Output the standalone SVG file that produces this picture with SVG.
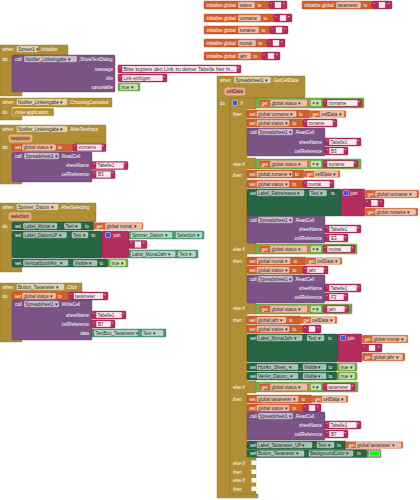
<svg xmlns="http://www.w3.org/2000/svg" width="420" height="500" viewBox="0 0 420 500">
<style>
text{font-family:"Liberation Sans",Arial,sans-serif;font-size:4.5px}
.w{fill:#fff}
.k{fill:#2b2b2b}
.e{text-anchor:end}
.ev{fill:#b18e35;stroke:#8c6f28;stroke-width:.4}
.pu{fill:#7c5385;stroke:#5e3e66;stroke-width:.4}
.sg{fill:#266643;stroke:#1b4a30;stroke-width:.4}
.lg{fill:#439970;stroke:#2f7352;stroke-width:.4}
.or{fill:#d05f2d;stroke:#a84a20;stroke-width:.4}
.gt{fill:#d05f2d;stroke:#f2b08f;stroke-width:.4}
.tx{fill:#b32d5e;stroke:#8a2047;stroke-width:.4}
.lo{fill:#77ab41;stroke:#5b8830;stroke-width:.4}
.cl{fill:#b18e35;stroke:#eadbb0;stroke-width:.5}
.pa{fill:#ec9a73;stroke:#fff;stroke-width:.4}
.f{fill:#fff;fill-opacity:.6;stroke:#fff;stroke-width:.3}
.tf{fill:#fbe9ef;stroke:#fff;stroke-width:.3}
.gear{fill:#3b5bdb;stroke:#fff;stroke-width:.4}
.nt{fill:#fff}
</style>
<g id="connectors"/>
<g id="globals">
<g id="init-status">
<rect class="or" x="204" y="1" width="65" height="8" rx="1"/>
<text class="w" x="206.5" y="6.6">initialize global</text>
<rect class="f" x="238.5" y="2.2" width="16" height="5.6" rx="1"/>
<text class="k" x="239.5" y="6.6">status</text>
<text class="w" x="257.5" y="6.6">to</text>
<rect class="tx" x="269" y="1" width="18" height="8" rx="1"/>
<text class="w" x="270.2" y="6.6">“</text><rect class="tf" x="275" y="2.2" width="6" height="5.6"/><text class="w" x="283" y="6.6">”</text>
</g>
<g id="init-vorname">
<rect class="or" x="204" y="14" width="70" height="8" rx="1"/>
<text class="w" x="206.5" y="19.6">initialize global</text>
<rect class="f" x="238.5" y="15.2" width="22" height="5.6" rx="1"/>
<text class="k" x="239.5" y="19.6">vorname</text>
<text class="w" x="263.5" y="19.6">to</text>
<rect class="tx" x="274" y="14" width="18" height="8" rx="1"/>
<text class="w" x="275.2" y="19.6">“</text><rect class="tf" x="280" y="15.2" width="6" height="5.6"/><text class="w" x="288" y="19.6">”</text>
</g>
<g id="init-zuname">
<rect class="or" x="204" y="26" width="66" height="8" rx="1"/>
<text class="w" x="206.5" y="31.6">initialize global</text>
<rect class="f" x="238.5" y="27.2" width="20" height="5.6" rx="1"/>
<text class="k" x="239.5" y="31.6">zuname</text>
<text class="w" x="261.5" y="31.6">to</text>
<rect class="tx" x="270" y="26" width="18" height="8" rx="1"/>
<text class="w" x="271.2" y="31.6">“</text><rect class="tf" x="276" y="27.2" width="6" height="5.6"/><text class="w" x="284" y="31.6">”</text>
</g>
<g id="init-monat">
<rect class="or" x="204" y="39" width="63" height="8" rx="1"/>
<text class="w" x="206.5" y="44.6">initialize global</text>
<rect class="f" x="238.5" y="40.2" width="17" height="5.6" rx="1"/>
<text class="k" x="239.5" y="44.6">monat</text>
<text class="w" x="258.5" y="44.6">to</text>
<rect class="tx" x="267" y="39" width="18" height="8" rx="1"/>
<text class="w" x="268.2" y="44.6">“</text><rect class="tf" x="273" y="40.2" width="6" height="5.6"/><text class="w" x="281" y="44.6">”</text>
</g>
<g id="init-jahr">
<rect class="or" x="204" y="52" width="58" height="8" rx="1"/>
<text class="w" x="206.5" y="57.6">initialize global</text>
<rect class="f" x="238.5" y="53.2" width="12" height="5.6" rx="1"/>
<text class="k" x="239.5" y="57.6">jahr</text>
<text class="w" x="253.5" y="57.6">to</text>
<rect class="tx" x="262" y="52" width="18" height="8" rx="1"/>
<text class="w" x="263.2" y="57.6">“</text><rect class="tf" x="268" y="53.2" width="6" height="5.6"/><text class="w" x="276" y="57.6">”</text>
</g>
<g id="init-taxameter">
<rect class="or" x="302" y="1" width="70" height="8" rx="1"/>
<text class="w" x="304.5" y="6.6">initialize global</text>
<rect class="f" x="336.5" y="2.2" width="24" height="5.6" rx="1"/>
<text class="k" x="337.5" y="6.6">taxameter</text>
<text class="w" x="363.5" y="6.6">to</text>
<rect class="tx" x="372" y="1" width="20" height="8" rx="1"/>
<text class="w" x="373.2" y="6.6">“</text><rect class="tf" x="379" y="2.2" width="6" height="5.6"/><text class="w" x="388" y="6.6">”</text>
</g>
</g>

<g id="screen1-initialize">
<path class="ev" d="M0,45H68V55H12V90H22V96H0Z"/>
<text class="w" x="2.5" y="50.6">when</text>
<rect class="f" x="17" y="46.2" width="21" height="5.6" rx="1"/>
<text class="k" x="18" y="50.6">Screen1 ▾</text>
<text class="w" x="40" y="50.6">.Initialize</text>
<text class="w" x="2.5" y="61">do</text>
<rect class="pu" x="12" y="55" width="103" height="37" rx="1"/>
<text class="w" x="15" y="60.6">call</text>
<rect class="f" x="24.5" y="56.2" width="52" height="5.6" rx="1"/>
<text class="k" x="25.5" y="60.6">Notifier_Linkeingabe ▾</text>
<text class="w" x="79" y="60.6">.ShowTextDialog</text>
<text class="w e" x="113" y="70.6">message</text>
<text class="w e" x="113" y="79.6">title</text>
<text class="w e" x="113" y="88.6">cancelable</text>
<rect class="tx" x="118" y="65" width="123" height="8" rx="1"/>
<text class="w" x="119.2" y="70.6">“</text>
<rect class="tf" x="122.5" y="66.2" width="114" height="5.6"/>
<text class="k" x="123.5" y="70.6" textLength="111" lengthAdjust="spacingAndGlyphs">Bitte kopiere den Link zu deiner Tabelle hier hi...</text>
<text class="w" x="237.5" y="70.6">”</text>
<rect class="tx" x="118" y="74" width="49" height="8" rx="1"/>
<text class="w" x="119.2" y="79.6">“</text>
<rect class="tf" x="122.5" y="75.2" width="40" height="5.6"/>
<text class="k" x="123.5" y="79.6">Link einfügen</text>
<text class="w" x="163.5" y="79.6">”</text>
<rect class="lo" x="118" y="83" width="22" height="8" rx="1"/>
<rect class="f" x="120.5" y="84.2" width="17" height="5.6" rx="1"/>
<text class="k" x="121.5" y="88.6">true ▾</text>
</g>

<g id="notifier-choosingcanceled">
<path class="ev" d="M0,98H112V107H12V116H22V120H0Z"/>
<text class="w" x="2.5" y="103.6">when</text>
<rect class="f" x="17" y="99.2" width="50" height="5.6" rx="1"/>
<text class="k" x="18" y="103.6">Notifier_Linkeingabe ▾</text>
<text class="w" x="69" y="103.6">.ChoosingCanceled</text>
<text class="w" x="2.5" y="113.6">do</text>
<rect class="cl" x="12" y="108" width="42" height="8" rx="1"/>
<text class="w" x="15" y="113.6">close application</text>
</g>

<g id="notifier-aftertextinput">
<path class="ev" d="M0,125H106V143H12V179H22V184H0Z"/>
<text class="w" x="2.5" y="130.6">when</text>
<rect class="f" x="17" y="126.2" width="50" height="5.6" rx="1"/>
<text class="k" x="18" y="130.6">Notifier_Linkeingabe ▾</text>
<text class="w" x="69" y="130.6">.AfterTextInput</text>
<rect class="pa" x="9" y="135" width="23" height="7" rx="2"/>
<text class="k" x="11" y="139.8">response</text>
<text class="w" x="2.5" y="149.2">do</text>
<rect class="or" x="12" y="143.5" width="61" height="8" rx="1"/>
<text class="w" x="15" y="149.1">set</text>
<rect class="f" x="22.5" y="144.7" width="33" height="5.6" rx="1"/>
<text class="k" x="23.5" y="149.1">global status ▾</text>
<text class="w" x="58" y="149.1">to</text>
<rect class="tx" x="73" y="143.5" width="33" height="8" rx="1"/>
<text class="w" x="74.2" y="149.1">“</text><rect class="tf" x="77.5" y="144.7" width="24" height="5.6"/><text class="k" x="78.5" y="149.1">vorname</text><text class="w" x="102.5" y="149.1">”</text>
<rect class="pu" x="12" y="152" width="80" height="30" rx="1"/>
<text class="w" x="15" y="157.6">call</text>
<rect class="f" x="24.5" y="153.2" width="34" height="5.6" rx="1"/>
<text class="k" x="25.5" y="157.6">Spreadsheet1 ▾</text>
<text class="w" x="60.5" y="157.6">.ReadCell</text>
<text class="w e" x="89" y="167.1">sheetName</text>
<text class="w e" x="89" y="176.1">cellReference</text>
<rect class="tx" x="92" y="161.5" width="36" height="8" rx="1"/>
<text class="w" x="93.2" y="167.1">“</text><rect class="tf" x="96.5" y="162.7" width="27" height="5.6"/><text class="k" x="97.5" y="167.1">Tabelle1</text><text class="w" x="124.5" y="167.1">”</text>
<rect class="tx" x="92" y="170.5" width="23" height="8" rx="1"/>
<text class="w" x="93.2" y="176.1">“</text><rect class="tf" x="96.5" y="171.7" width="14" height="5.6"/><text class="k" x="98" y="176.1">B3</text><text class="w" x="111.5" y="176.1">”</text>
</g>

<g id="spinner-afterselecting">
<path class="ev" d="M0,203H96V222H12V267H22V272H0Z"/>
<text class="w" x="2.5" y="208.6">when</text>
<rect class="f" x="17" y="204.2" width="41" height="5.6" rx="1"/>
<text class="k" x="18" y="208.6">Spinner_Datum ▾</text>
<text class="w" x="60" y="208.6">.AfterSelecting</text>
<rect class="pa" x="9" y="213" width="22" height="7" rx="2"/>
<text class="k" x="11" y="217.8">selection</text>
<text class="w" x="2.5" y="228">do</text>
<rect class="sg" x="12" y="222" width="82" height="8" rx="1"/>
<text class="w" x="15" y="227.6">set</text>
<rect class="f" x="23.5" y="223.2" width="33.5" height="5.6" rx="1"/>
<text class="k" x="24.5" y="227.6">Label_Monat ▾</text>
<text class="w" x="59" y="227.6">.</text>
<rect class="f" x="64.5" y="223.2" width="16.5" height="5.6" rx="1"/>
<text class="k" x="65.5" y="227.6">Text ▾</text>
<text class="w" x="85" y="227.6">to</text>
<rect class="gt" x="94" y="222.5" width="49" height="7" rx="1"/>
<text class="w" x="96.5" y="227.6">get</text>
<rect class="f" x="105.5" y="223.2" width="36" height="5.6" rx="1"/>
<text class="k" x="106.5" y="227.6">global monat ▾</text>
<rect class="sg" x="12" y="231" width="90" height="27" rx="1"/>
<text class="w" x="15" y="236.6">set</text>
<rect class="f" x="23.5" y="232.2" width="43" height="5.6" rx="1"/>
<text class="k" x="24.5" y="236.6">Label_DatumUP ▾</text>
<text class="w" x="68.5" y="236.6">.</text>
<rect class="f" x="72" y="232.2" width="16" height="5.6" rx="1"/>
<text class="k" x="73" y="236.6">Text ▾</text>
<text class="w" x="91.5" y="236.6">to</text>
<rect class="tx" x="102" y="231" width="27" height="27" rx="1"/>
<rect class="gear" x="105.5" y="232.5" width="5" height="5" rx=".8"/>
<text class="w" x="113.5" y="236.6">join</text>
<rect class="lg" x="129" y="231" width="75" height="8" rx="1"/>
<rect class="f" x="131" y="232.2" width="41" height="5.6" rx="1"/>
<text class="k" x="132" y="236.6">Spinner_Datum ▾</text>
<text class="w" x="173.5" y="236.6">.</text>
<rect class="f" x="176" y="232.2" width="26" height="5.6" rx="1"/>
<text class="k" x="177" y="236.6">Selection ▾</text>
<rect class="tx" x="129" y="240.5" width="18" height="8" rx="1"/>
<text class="w" x="130.2" y="246.1">“</text><rect class="tf" x="135" y="241.7" width="6" height="5.6"/><text class="w" x="143" y="246.1">”</text>
<rect class="lg" x="129" y="250" width="69" height="8" rx="1"/>
<rect class="f" x="131" y="251.2" width="44" height="5.6" rx="1"/>
<text class="k" x="132" y="255.6">Label_MonatJahr ▾</text>
<text class="w" x="176.3" y="255.6">.</text>
<rect class="f" x="178.5" y="251.2" width="17" height="5.6" rx="1"/>
<text class="k" x="179.5" y="255.6">Text ▾</text>
<rect class="sg" x="12" y="259" width="96" height="8" rx="1"/>
<text class="w" x="15" y="264.6">set</text>
<rect class="f" x="23.5" y="260.2" width="44.5" height="5.6" rx="1"/>
<text class="k" x="24.5" y="264.6">VerticalScrollArr_ ▾</text>
<text class="w" x="69.5" y="264.6">.</text>
<rect class="f" x="73.5" y="260.2" width="23.5" height="5.6" rx="1"/>
<text class="k" x="74.5" y="264.6">Visible ▾</text>
<text class="w" x="99.5" y="264.6">to</text>
<rect class="lo" x="108" y="259" width="20" height="8" rx="1"/>
<rect class="f" x="110.5" y="260.2" width="15" height="5.6" rx="1"/>
<text class="k" x="111.5" y="264.6">true ▾</text>
</g>

<g id="button-taxameter-click">
<path class="ev" d="M0,283H82V292H12V337H22V342H0Z"/>
<text class="w" x="2.5" y="288.6">when</text>
<rect class="f" x="17" y="284.2" width="47" height="5.6" rx="1"/>
<text class="k" x="18" y="288.6">Button_Taxameter ▾</text>
<text class="w" x="66" y="288.6">.Click</text>
<text class="w" x="2.5" y="297.8">do</text>
<rect class="or" x="12" y="292" width="57" height="8" rx="1"/>
<text class="w" x="15" y="297.6">set</text>
<rect class="f" x="22.5" y="293.2" width="33" height="5.6" rx="1"/>
<text class="k" x="23.5" y="297.6">global status ▾</text>
<text class="w" x="58" y="297.6">to</text>
<rect class="tx" x="69" y="292" width="39" height="8" rx="1"/>
<text class="w" x="70.2" y="297.6">“</text><rect class="tf" x="74" y="293.2" width="29" height="5.6"/><text class="k" x="75" y="297.6">taxameter</text><text class="w" x="104.3" y="297.6">”</text>
<rect class="pu" x="12" y="300" width="80" height="40" rx="1"/>
<text class="w" x="15" y="305.6">call</text>
<rect class="f" x="24.5" y="301.2" width="34" height="5.6" rx="1"/>
<text class="k" x="25.5" y="305.6">Spreadsheet1 ▾</text>
<text class="w" x="60.5" y="305.6">.WriteCell</text>
<text class="w e" x="89" y="316.6">sheetName</text>
<text class="w e" x="89" y="325.6">cellReference</text>
<text class="w e" x="89" y="334.6">data</text>
<rect class="tx" x="92" y="311" width="34" height="8" rx="1"/>
<text class="w" x="93.2" y="316.6">“</text><rect class="tf" x="96.5" y="312.2" width="25" height="5.6"/><text class="k" x="97.5" y="316.6">Tabelle1</text><text class="w" x="122.5" y="316.6">”</text>
<rect class="tx" x="92" y="320" width="23" height="8" rx="1"/>
<text class="w" x="93.2" y="325.6">“</text><rect class="tf" x="96.5" y="321.2" width="14" height="5.6"/><text class="k" x="98" y="325.6">B7</text><text class="w" x="111.5" y="325.6">”</text>
<rect class="lg" x="92" y="329" width="74" height="8" rx="1"/>
<rect class="f" x="94.5" y="330.2" width="43.5" height="5.6" rx="1"/>
<text class="k" x="95.5" y="334.6">TextBox_Taxameter ▾</text>
<text class="w" x="139.5" y="334.6">.</text>
<rect class="f" x="142" y="330.2" width="21" height="5.6" rx="1"/>
<text class="k" x="143" y="334.6">Text ▾</text>
</g>

<g id="spreadsheet1-gotcelldata">
<path class="ev" d="M217,76H305V98H230V494H258V498H217Z"/>
<text class="w" x="220" y="81.6">when</text>
<rect class="f" x="234.5" y="77.2" width="36" height="5.6" rx="1"/>
<text class="k" x="235.5" y="81.6">Spreadsheet1 ▾</text>
<text class="w" x="272.5" y="81.6">.GotCellData</text>
<rect class="pa" x="225" y="88" width="20" height="7" rx="2"/>
<text class="k" x="226.5" y="92.8">cellData</text>
<text class="w" x="220" y="104.5">do</text>

<g id="if-block">
<path class="ev" d="M230,98H256V109H247V158H256V169H247V243H256V254H247V302H256V314H247V381H256V393H247V458H256V494H230Z"/>
<rect class="nt" x="251.5" y="460.5" width="5" height="4.5"/>
<rect class="nt" x="251.5" y="469.5" width="5" height="4.5"/>
<rect class="nt" x="251.5" y="478" width="5" height="4.5"/>
<rect class="nt" x="251.5" y="486.5" width="5" height="4.5"/>
<rect class="gear" x="232.5" y="100.5" width="5" height="5" rx=".8"/>
<text class="w" x="240.5" y="105">if</text>
<text class="w" x="233" y="116">then</text>
<text class="w" x="233" y="165.5">else if</text>
<text class="w" x="233" y="177">then</text>
<text class="w" x="233" y="250.5">else if</text>
<text class="w" x="233" y="262.5">then</text>
<text class="w" x="233" y="310">else if</text>
<text class="w" x="233" y="322">then</text>
<text class="w" x="233" y="389">else if</text>
<text class="w" x="233" y="400.5">then</text>
<text class="w" x="233" y="464.5">else if</text>
<text class="w" x="233" y="473.5">then</text>
<text class="w" x="233" y="482">else if</text>
<text class="w" x="233" y="490.5">then</text>
</g>

<g id="cond-vorname">
<rect class="lo" x="255" y="98" width="109" height="10" rx="1"/>
<rect class="gt" x="259" y="99.5" width="50" height="7" rx="1"/>
<text class="w" x="261.5" y="104.5">get</text>
<rect class="f" x="270.5" y="100.2" width="36.5" height="5.6" rx="1"/>
<text class="k" x="271.5" y="104.5">global status ▾</text>
<rect class="f" x="311" y="100.2" width="10" height="5.6" rx="1"/>
<text class="k" x="312.3" y="104.5">= ▾</text>
<rect class="tx" x="323" y="99.5" width="39" height="7" rx="1"/>
<text class="w" x="324.2" y="104.5">“</text><rect class="tf" x="327.5" y="100.2" width="30" height="5.6"/><text class="k" x="328.5" y="104.5">vorname</text><text class="w" x="358.5" y="104.5">”</text>
</g>
<g id="then-vorname">
<rect class="or" x="247" y="110" width="63" height="8" rx="1"/>
<text class="w" x="249.5" y="115.6">set</text>
<rect class="f" x="257" y="111.2" width="39" height="5.6" rx="1"/>
<text class="k" x="258" y="115.6">global vorname ▾</text>
<text class="w" x="299" y="115.6">to</text>
<rect class="gt" x="310" y="110.5" width="36" height="7" rx="1"/>
<text class="w" x="312.5" y="115.6">get</text>
<rect class="f" x="320" y="111.2" width="24" height="5.6" rx="1"/>
<text class="k" x="321" y="115.6">cellData ▾</text>
<rect class="or" x="247" y="119" width="56" height="8" rx="1"/>
<text class="w" x="249.5" y="124.6">set</text>
<rect class="f" x="257" y="120.2" width="32" height="5.6" rx="1"/>
<text class="k" x="258" y="124.6">global status ▾</text>
<text class="w" x="292.5" y="124.6">to</text>
<rect class="tx" x="303" y="119" width="34" height="8" rx="1"/>
<text class="w" x="304.2" y="124.6">“</text><rect class="tf" x="307.5" y="120.2" width="25" height="5.6"/><text class="k" x="308.5" y="124.6">zuname</text><text class="w" x="333.5" y="124.6">”</text>
<rect class="pu" x="247" y="128" width="78" height="28" rx="1"/>
<text class="w" x="250" y="133.6">call</text>
<rect class="f" x="258.5" y="129.2" width="34" height="5.6" rx="1"/>
<text class="k" x="259.5" y="133.6">Spreadsheet1 ▾</text>
<text class="w" x="294.5" y="133.6">.ReadCell</text>
<text class="w e" x="322" y="143.6">sheetName</text>
<text class="w e" x="322" y="152.6">cellReference</text>
<rect class="tx" x="325" y="138" width="36" height="8" rx="1"/>
<text class="w" x="326.2" y="143.6">“</text><rect class="tf" x="329.5" y="139.2" width="27" height="5.6"/><text class="k" x="330.5" y="143.6">Tabelle1</text><text class="w" x="357.5" y="143.6">”</text>
<rect class="tx" x="325" y="147" width="23" height="8" rx="1"/>
<text class="w" x="326.2" y="152.6">“</text><rect class="tf" x="329.5" y="148.2" width="14" height="5.6"/><text class="k" x="331" y="152.6">B3</text><text class="w" x="344.5" y="152.6">”</text>
</g>

<g id="cond-zuname">
<rect class="lo" x="255" y="159" width="106" height="10" rx="1"/>
<rect class="gt" x="259" y="160.5" width="50" height="7" rx="1"/>
<text class="w" x="261.5" y="165.5">get</text>
<rect class="f" x="270.5" y="161.2" width="36.5" height="5.6" rx="1"/>
<text class="k" x="271.5" y="165.5">global status ▾</text>
<rect class="f" x="311" y="161.2" width="10" height="5.6" rx="1"/>
<text class="k" x="312.3" y="165.5">= ▾</text>
<rect class="tx" x="323" y="160.5" width="35" height="7" rx="1"/>
<text class="w" x="324.2" y="165.5">“</text><rect class="tf" x="327.5" y="161.2" width="26" height="5.6"/><text class="k" x="328.5" y="165.5">zuname</text><text class="w" x="354.5" y="165.5">”</text>
</g>
<g id="then-zuname">
<rect class="or" x="247" y="170" width="57" height="8" rx="1"/>
<text class="w" x="249.5" y="175.6">set</text>
<rect class="f" x="257" y="171.2" width="35" height="5.6" rx="1"/>
<text class="k" x="258" y="175.6">global zuname ▾</text>
<text class="w" x="295" y="175.6">to</text>
<rect class="gt" x="304" y="170.5" width="36" height="7" rx="1"/>
<text class="w" x="306.5" y="175.6">get</text>
<rect class="f" x="314" y="171.2" width="24" height="5.6" rx="1"/>
<text class="k" x="315" y="175.6">cellData ▾</text>
<rect class="or" x="247" y="180" width="56" height="8" rx="1"/>
<text class="w" x="249.5" y="185.6">set</text>
<rect class="f" x="257" y="181.2" width="32" height="5.6" rx="1"/>
<text class="k" x="258" y="185.6">global status ▾</text>
<text class="w" x="292.5" y="185.6">to</text>
<rect class="tx" x="303" y="180" width="31" height="8" rx="1"/>
<text class="w" x="304.2" y="185.6">“</text><rect class="tf" x="307.5" y="181.2" width="22" height="5.6"/><text class="k" x="308.5" y="185.6">monat</text><text class="w" x="330.5" y="185.6">”</text>
<rect class="sg" x="247" y="189" width="94" height="27" rx="1"/>
<text class="w" x="250" y="194.6">set</text>
<rect class="f" x="257" y="190.2" width="47" height="5.6" rx="1"/>
<text class="k" x="258" y="194.6">Label_Fahrername ▾</text>
<text class="w" x="305.8" y="194.6">.</text>
<rect class="f" x="309.5" y="190.2" width="17" height="5.6" rx="1"/>
<text class="k" x="310.5" y="194.6">Text ▾</text>
<text class="w" x="331" y="194.6">to</text>
<rect class="tx" x="341" y="189" width="24" height="27" rx="1"/>
<rect class="gear" x="343.5" y="190.5" width="5" height="5" rx=".8"/>
<text class="w" x="350.5" y="194.6">join</text>
<rect class="gt" x="365" y="190" width="54" height="8" rx="1"/>
<text class="w" x="367.5" y="195.6">get</text>
<rect class="f" x="375.5" y="191.2" width="41" height="5.6" rx="1"/>
<text class="k" x="376.5" y="195.6">global vorname ▾</text>
<rect class="tx" x="365" y="199" width="19" height="8" rx="1"/>
<text class="w" x="366.2" y="204.6">“</text><rect class="tf" x="371.5" y="200.2" width="6" height="5.6"/><text class="w" x="380" y="204.6">”</text>
<rect class="gt" x="365" y="208" width="53" height="8" rx="1"/>
<text class="w" x="367.5" y="213.6">get</text>
<rect class="f" x="375.5" y="209.2" width="40" height="5.6" rx="1"/>
<text class="k" x="376.5" y="213.6">global zuname ▾</text>
<rect class="pu" x="247" y="216" width="78" height="27" rx="1"/>
<text class="w" x="250" y="221.6">call</text>
<rect class="f" x="258.5" y="217.2" width="34" height="5.6" rx="1"/>
<text class="k" x="259.5" y="221.6">Spreadsheet1 ▾</text>
<text class="w" x="294.5" y="221.6">.ReadCell</text>
<text class="w e" x="322" y="230.6">sheetName</text>
<text class="w e" x="322" y="239.6">cellReference</text>
<rect class="tx" x="325" y="225" width="36" height="8" rx="1"/>
<text class="w" x="326.2" y="230.6">“</text><rect class="tf" x="329.5" y="226.2" width="27" height="5.6"/><text class="k" x="330.5" y="230.6">Tabelle1</text><text class="w" x="357.5" y="230.6">”</text>
<rect class="tx" x="325" y="234" width="23" height="8" rx="1"/>
<text class="w" x="326.2" y="239.6">“</text><rect class="tf" x="329.5" y="235.2" width="14" height="5.6"/><text class="k" x="331" y="239.6">E3</text><text class="w" x="344.5" y="239.6">”</text>
</g>

<g id="cond-monat">
<rect class="lo" x="255" y="244" width="102" height="10" rx="1"/>
<rect class="gt" x="259" y="245.5" width="50" height="7" rx="1"/>
<text class="w" x="261.5" y="250.5">get</text>
<rect class="f" x="270.5" y="246.2" width="36.5" height="5.6" rx="1"/>
<text class="k" x="271.5" y="250.5">global status ▾</text>
<rect class="f" x="311" y="246.2" width="10" height="5.6" rx="1"/>
<text class="k" x="312.3" y="250.5">= ▾</text>
<rect class="tx" x="323" y="245.5" width="32" height="7" rx="1"/>
<text class="w" x="324.2" y="250.5">“</text><rect class="tf" x="327.5" y="246.2" width="23" height="5.6"/><text class="k" x="328.5" y="250.5">monat</text><text class="w" x="351.5" y="250.5">”</text>
</g>
<g id="then-monat">
<rect class="or" x="247" y="257" width="59" height="8" rx="1"/>
<text class="w" x="249.5" y="262.6">set</text>
<rect class="f" x="257" y="258.2" width="33" height="5.6" rx="1"/>
<text class="k" x="258" y="262.6">global monat ▾</text>
<text class="w" x="293.5" y="262.6">to</text>
<rect class="gt" x="306" y="257.5" width="36" height="7" rx="1"/>
<text class="w" x="308.5" y="262.6">get</text>
<rect class="f" x="316" y="258.2" width="24" height="5.6" rx="1"/>
<text class="k" x="317" y="262.6">cellData ▾</text>
<rect class="or" x="247" y="266" width="56" height="8" rx="1"/>
<text class="w" x="249.5" y="271.6">set</text>
<rect class="f" x="257" y="267.2" width="32" height="5.6" rx="1"/>
<text class="k" x="258" y="271.6">global status ▾</text>
<text class="w" x="292.5" y="271.6">to</text>
<rect class="tx" x="303" y="266" width="25" height="8" rx="1"/>
<text class="w" x="304.2" y="271.6">“</text><rect class="tf" x="307.5" y="267.2" width="16" height="5.6"/><text class="k" x="308.5" y="271.6">jahr</text><text class="w" x="324.5" y="271.6">”</text>
<rect class="pu" x="247" y="275" width="78" height="28" rx="1"/>
<text class="w" x="250" y="280.6">call</text>
<rect class="f" x="258.5" y="276.2" width="34" height="5.6" rx="1"/>
<text class="k" x="259.5" y="280.6">Spreadsheet1 ▾</text>
<text class="w" x="294.5" y="280.6">.ReadCell</text>
<text class="w e" x="322" y="289.6">sheetName</text>
<text class="w e" x="322" y="298.6">cellReference</text>
<rect class="tx" x="325" y="284" width="36" height="8" rx="1"/>
<text class="w" x="326.2" y="289.6">“</text><rect class="tf" x="329.5" y="285.2" width="27" height="5.6"/><text class="k" x="330.5" y="289.6">Tabelle1</text><text class="w" x="357.5" y="289.6">”</text>
<rect class="tx" x="325" y="293" width="23" height="8" rx="1"/>
<text class="w" x="326.2" y="298.6">“</text><rect class="tf" x="329.5" y="294.2" width="14" height="5.6"/><text class="k" x="331" y="298.6">F3</text><text class="w" x="344.5" y="298.6">”</text>
</g>

<g id="cond-jahr">
<rect class="lo" x="255" y="304" width="97" height="10" rx="1"/>
<rect class="gt" x="259" y="305.5" width="50" height="7" rx="1"/>
<text class="w" x="261.5" y="310.5">get</text>
<rect class="f" x="270.5" y="306.2" width="36.5" height="5.6" rx="1"/>
<text class="k" x="271.5" y="310.5">global status ▾</text>
<rect class="f" x="311" y="306.2" width="10" height="5.6" rx="1"/>
<text class="k" x="312.3" y="310.5">= ▾</text>
<rect class="tx" x="323" y="305.5" width="26" height="7" rx="1"/>
<text class="w" x="324.2" y="310.5">“</text><rect class="tf" x="327.5" y="306.2" width="17" height="5.6"/><text class="k" x="328.5" y="310.5">jahr</text><text class="w" x="345.5" y="310.5">”</text>
</g>
<g id="then-jahr">
<rect class="or" x="247" y="316" width="54" height="8" rx="1"/>
<text class="w" x="249.5" y="321.6">set</text>
<rect class="f" x="257" y="317.2" width="29" height="5.6" rx="1"/>
<text class="k" x="258" y="321.6">global jahr ▾</text>
<text class="w" x="289" y="321.6">to</text>
<rect class="gt" x="301" y="316.5" width="36" height="7" rx="1"/>
<text class="w" x="303.5" y="321.6">get</text>
<rect class="f" x="311" y="317.2" width="24" height="5.6" rx="1"/>
<text class="k" x="312" y="321.6">cellData ▾</text>
<rect class="or" x="247" y="325" width="56" height="8" rx="1"/>
<text class="w" x="249.5" y="330.6">set</text>
<rect class="f" x="257" y="326.2" width="32" height="5.6" rx="1"/>
<text class="k" x="258" y="330.6">global status ▾</text>
<text class="w" x="292.5" y="330.6">to</text>
<rect class="tx" x="303" y="325" width="18" height="8" rx="1"/>
<text class="w" x="304.2" y="330.6">“</text><rect class="tf" x="309" y="326.2" width="6" height="5.6"/><text class="w" x="317" y="330.6">”</text>
<rect class="sg" x="247" y="334" width="91" height="28" rx="1"/>
<text class="w" x="250" y="339.6">set</text>
<rect class="f" x="257" y="335.2" width="45" height="5.6" rx="1"/>
<text class="k" x="258" y="339.6">Label_MonatJahr ▾</text>
<text class="w" x="303.8" y="339.6">.</text>
<rect class="f" x="307" y="335.2" width="17" height="5.6" rx="1"/>
<text class="k" x="308" y="339.6">Text ▾</text>
<text class="w" x="328" y="339.6">to</text>
<rect class="tx" x="338" y="334" width="24" height="28" rx="1"/>
<rect class="gear" x="340.5" y="335.5" width="5" height="5" rx=".8"/>
<text class="w" x="347.5" y="339.6">join</text>
<rect class="gt" x="362" y="335" width="46" height="8" rx="1"/>
<text class="w" x="364.5" y="340.6">get</text>
<rect class="f" x="372.5" y="336.2" width="34" height="5.6" rx="1"/>
<text class="k" x="373.5" y="340.6">global monat ▾</text>
<rect class="tx" x="362" y="344" width="20" height="8" rx="1"/>
<text class="w" x="363.2" y="349.6">“</text><rect class="tf" x="369" y="345.2" width="6" height="5.6"/><text class="w" x="378" y="349.6">”</text>
<rect class="gt" x="362" y="353" width="43" height="8" rx="1"/>
<text class="w" x="364.5" y="358.6">get</text>
<rect class="f" x="372.5" y="354.2" width="30" height="5.6" rx="1"/>
<text class="k" x="373.5" y="358.6">global jahr ▾</text>
<rect class="sg" x="247" y="363" width="90" height="8" rx="1"/>
<text class="w" x="250" y="368.6">set</text>
<rect class="f" x="257" y="364.2" width="41" height="5.6" rx="1"/>
<text class="k" x="258" y="368.6">HorArr_Sheet_ ▾</text>
<text class="w" x="299.8" y="368.6">.</text>
<rect class="f" x="303" y="364.2" width="23" height="5.6" rx="1"/>
<text class="k" x="304" y="368.6">Visible ▾</text>
<text class="w" x="328.5" y="368.6">to</text>
<rect class="lo" x="337" y="363" width="20" height="8" rx="1"/>
<rect class="f" x="339.5" y="364.2" width="15" height="5.6" rx="1"/>
<text class="k" x="340.5" y="368.6">true ▾</text>
<rect class="sg" x="247" y="372" width="90" height="8" rx="1"/>
<text class="w" x="250" y="377.6">set</text>
<rect class="f" x="257" y="373.2" width="41" height="5.6" rx="1"/>
<text class="k" x="258" y="377.6">VerArr_Datum_ ▾</text>
<text class="w" x="299.8" y="377.6">.</text>
<rect class="f" x="303" y="373.2" width="23" height="5.6" rx="1"/>
<text class="k" x="304" y="377.6">Visible ▾</text>
<text class="w" x="328.5" y="377.6">to</text>
<rect class="lo" x="337" y="372" width="20" height="8" rx="1"/>
<rect class="f" x="339.5" y="373.2" width="15" height="5.6" rx="1"/>
<text class="k" x="340.5" y="377.6">true ▾</text>
</g>

<g id="cond-taxameter">
<rect class="lo" x="255" y="382" width="103" height="10" rx="1"/>
<rect class="gt" x="259" y="383.5" width="50" height="7" rx="1"/>
<text class="w" x="261.5" y="388.5">get</text>
<rect class="f" x="270.5" y="384.2" width="36.5" height="5.6" rx="1"/>
<text class="k" x="271.5" y="388.5">global status ▾</text>
<rect class="f" x="311" y="384.2" width="10" height="5.6" rx="1"/>
<text class="k" x="312.3" y="388.5">= ▾</text>
<rect class="tx" x="323" y="383.5" width="32" height="7" rx="1"/>
<text class="w" x="324.2" y="388.5">“</text><rect class="tf" x="327.5" y="384.2" width="23" height="5.6"/><text class="k" x="328.3" y="388.5">taxameter</text><text class="w" x="351.5" y="388.5">”</text>
</g>
<g id="then-taxameter">
<rect class="or" x="247" y="395" width="65" height="8" rx="1"/>
<text class="w" x="249.5" y="400.6">set</text>
<rect class="f" x="257" y="396.2" width="41" height="5.6" rx="1"/>
<text class="k" x="258" y="400.6">global taxameter ▾</text>
<text class="w" x="301.5" y="400.6">to</text>
<rect class="gt" x="312" y="395.5" width="36" height="7" rx="1"/>
<text class="w" x="314.5" y="400.6">get</text>
<rect class="f" x="322" y="396.2" width="24" height="5.6" rx="1"/>
<text class="k" x="323" y="400.6">cellData ▾</text>
<rect class="or" x="247" y="404" width="56" height="8" rx="1"/>
<text class="w" x="249.5" y="409.6">set</text>
<rect class="f" x="257" y="405.2" width="32" height="5.6" rx="1"/>
<text class="k" x="258" y="409.6">global status ▾</text>
<text class="w" x="292.5" y="409.6">to</text>
<rect class="tx" x="303" y="404" width="18" height="8" rx="1"/>
<text class="w" x="304.2" y="409.6">“</text><rect class="tf" x="309" y="405.2" width="6" height="5.6"/><text class="w" x="317" y="409.6">”</text>
<rect class="pu" x="247" y="412" width="78" height="28" rx="1"/>
<text class="w" x="250" y="417.6">call</text>
<rect class="f" x="258.5" y="413.2" width="34" height="5.6" rx="1"/>
<text class="k" x="259.5" y="417.6">Spreadsheet1 ▾</text>
<text class="w" x="294.5" y="417.6">.ReadCell</text>
<text class="w e" x="322" y="426.6">sheetName</text>
<text class="w e" x="322" y="435.6">cellReference</text>
<rect class="tx" x="325" y="421" width="36" height="8" rx="1"/>
<text class="w" x="326.2" y="426.6">“</text><rect class="tf" x="329.5" y="422.2" width="27" height="5.6"/><text class="k" x="330.5" y="426.6">Tabelle1</text><text class="w" x="357.5" y="426.6">”</text>
<rect class="tx" x="325" y="430" width="23" height="8" rx="1"/>
<text class="w" x="326.2" y="435.6">“</text><rect class="tf" x="329.5" y="431.2" width="14" height="5.6"/><text class="k" x="331" y="435.6">B7</text><text class="w" x="344.5" y="435.6">”</text>
<rect class="sg" x="247" y="441" width="99" height="8" rx="1"/>
<text class="w" x="250" y="446.6">set</text>
<rect class="f" x="257" y="442.2" width="55" height="5.6" rx="1"/>
<text class="k" x="258" y="446.6">Label_Taxameter_UP ▾</text>
<text class="w" x="313.8" y="446.6">.</text>
<rect class="f" x="317" y="442.2" width="17" height="5.6" rx="1"/>
<text class="k" x="318" y="446.6">Text ▾</text>
<text class="w" x="337" y="446.6">to</text>
<rect class="gt" x="346" y="441.5" width="57" height="7" rx="1"/>
<text class="w" x="348.5" y="446.6">get</text>
<rect class="f" x="356" y="442.2" width="45" height="5.6" rx="1"/>
<text class="k" x="357" y="446.6">global taxameter ▾</text>
<rect class="sg" x="247" y="449.5" width="120" height="8" rx="1"/>
<text class="w" x="250" y="455.1">set</text>
<rect class="f" x="257" y="450.7" width="47" height="5.6" rx="1"/>
<text class="k" x="258" y="455.1">Button_Taxameter ▾</text>
<text class="w" x="305.8" y="455.1">.</text>
<rect class="f" x="309" y="450.7" width="44" height="5.6" rx="1"/>
<text class="k" x="310" y="455.1">BackgroundColor ▾</text>
<text class="w" x="357" y="455.1">to</text>
<rect x="367" y="449.5" width="14" height="8" rx="1" fill="#8a8a8a" stroke="#6a6a6a" stroke-width=".4"/>
<rect x="369.5" y="451" width="10" height="5" fill="#00ff00" stroke="#fff" stroke-width=".4"/>
</g>
</g>
</svg>
